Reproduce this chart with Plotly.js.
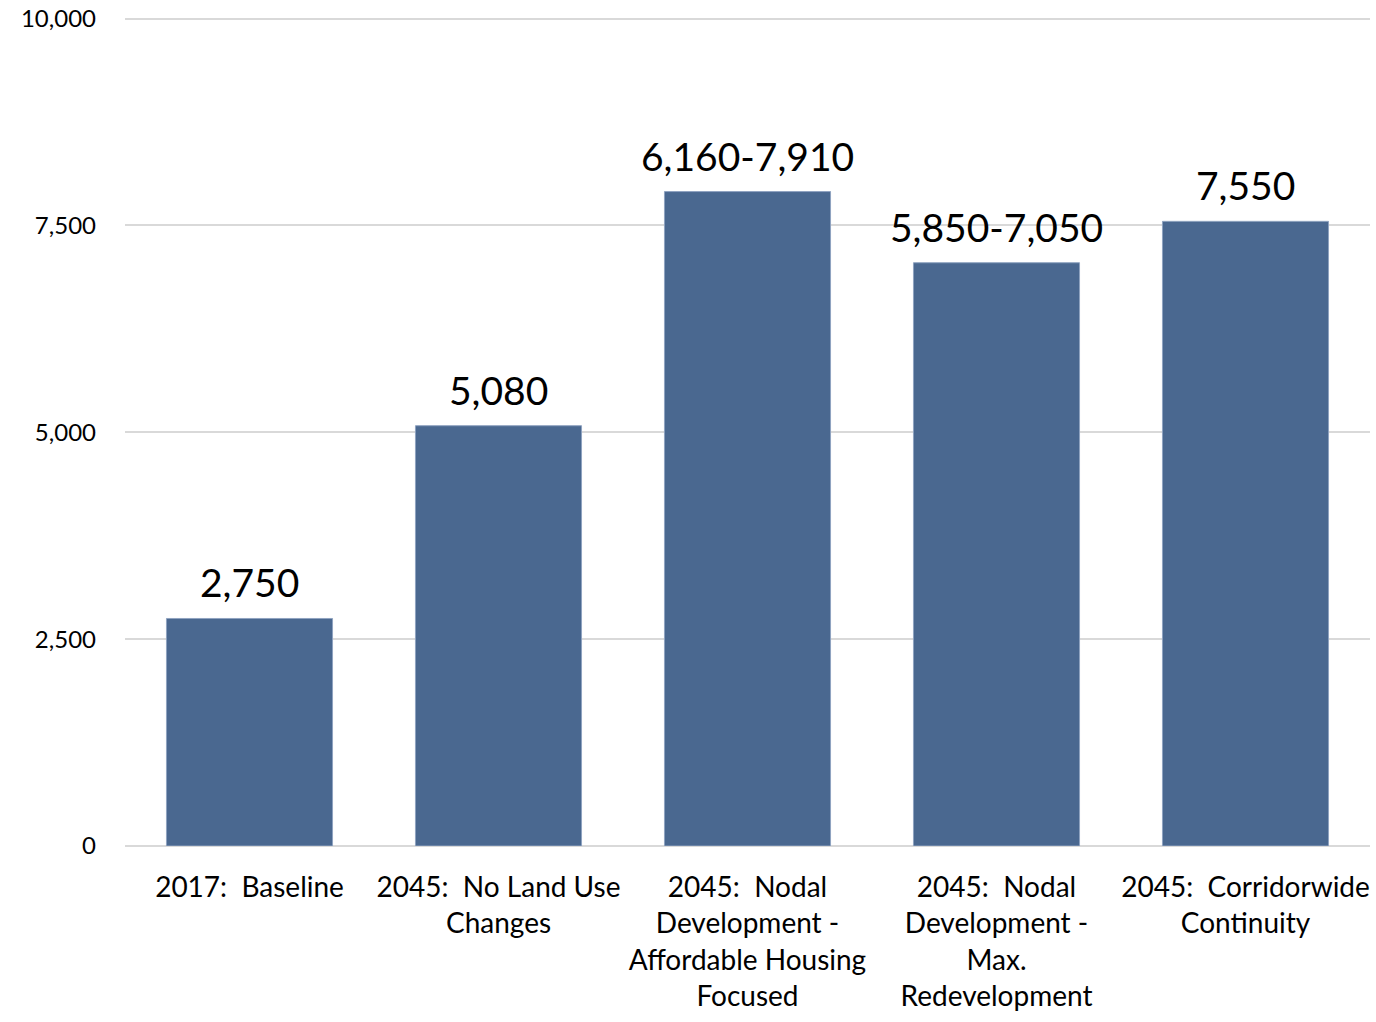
<!DOCTYPE html>
<html>
<head>
<meta charset="utf-8">
<script src="https://cdn.plot.ly/plotly-3.0.1.min.js"></script>
<style>html,body{margin:0;padding:0;background:#fff;}#chart{width:1376px;height:1022px;}</style>
</head>
<body>
<div id="chart"></div>
<script>
const categories = [
  "2017:  Baseline",
  "2045:  No Land Use<br>Changes",
  "2045:  Nodal<br>Development -<br>Affordable Housing<br>Focused",
  "2045:  Nodal<br>Development -<br>Max.<br>Redevelopment",
  "2045:  Corridorwide<br>Continuity"
];
const values = [2750, 5080, 7910, 7050, 7550];
const valueLabels = ["2,750", "5,080", "6,160-7,910", "5,850-7,050", "7,550"];
const yTickValues = [0, 2500, 5000, 7500, 10000];
const yTickLabels = ["0", "2,500", "5,000", "7,500", "10,000"];

const FONT = "Lato, 'Open Sans', sans-serif";

const annotations = categories.map((c, i) => ({
  x: c, y: values[i], text: valueLabels[i],
  xref: "x", yref: "y", showarrow: false,
  yanchor: "bottom", yshift: 11,
  font: {family: FONT, size: 39, color: "#000"}
}));

Plotly.newPlot("chart", [{
  type: "bar",
  x: categories,
  y: values,
  marker: {color: "#4a6890", line: {color: "#8fa3c0", width: 1}},
  hoverinfo: "none"
}], {
  width: 1376,
  height: 1022,
  margin: {l: 125, r: 6, t: 17, b: 176},
  paper_bgcolor: "#fff",
  plot_bgcolor: "#fff",
  bargap: 0.333,
  showlegend: false,
  font: {family: FONT, color: "#000"},
  annotations: annotations,
  xaxis: {
    tickfont: {family: FONT, size: 28, color: "#000"},
    tickangle: 0,
    showgrid: false,
    showline: false,
    ticks: "",
    ticklabelstandoff: 22
  },
  yaxis: {
    range: [0, 10020],
    tickvals: yTickValues,
    ticktext: yTickLabels,
    tickfont: {family: FONT, size: 24, color: "#000"},
    ticklabeloverflow: "allow",
    showgrid: true,
    gridcolor: "#d9d9d9",
    gridwidth: 2,
    zeroline: true,
    zerolinecolor: "#d9d9d9",
    zerolinewidth: 2,
    showline: false,
    ticks: "",
    ticklabelstandoff: 28
  }
}, {displayModeBar: false, staticPlot: true});
</script>
</body>
</html>
